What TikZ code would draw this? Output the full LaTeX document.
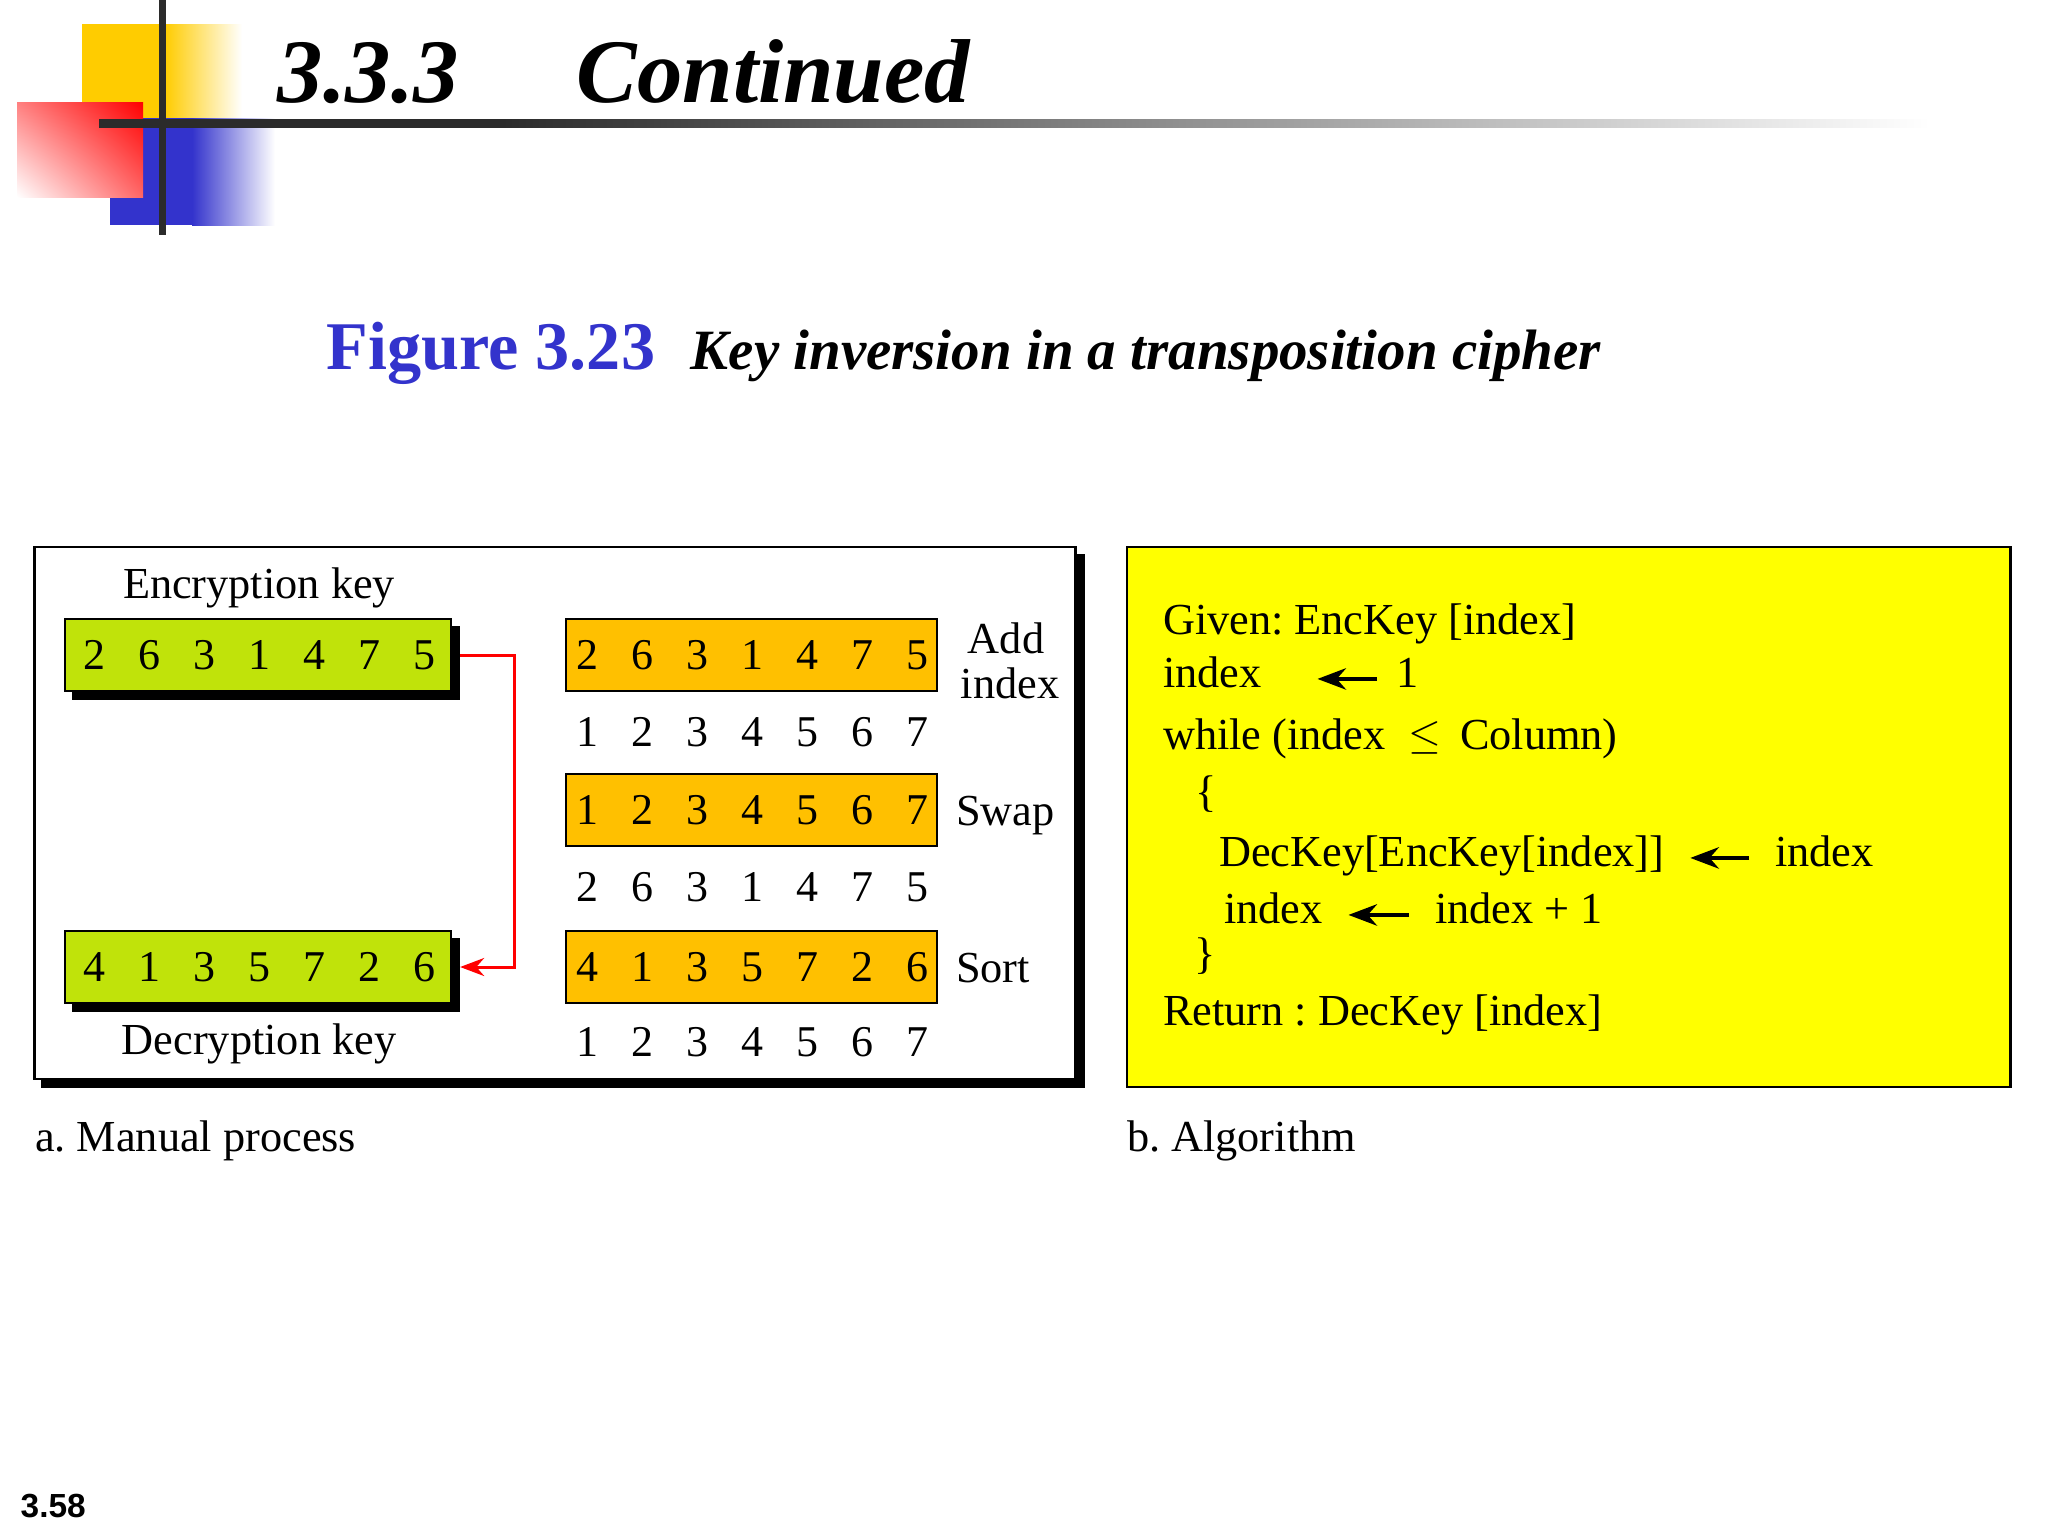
\documentclass[tikz,border=0pt]{standalone}
\usepackage{fontspec}
\setmainfont{Liberation Serif}
\setsansfont{Liberation Sans}
\usetikzlibrary{arrows.meta,shadows,shadings}
\tikzset {>=Stealth}
\definecolor{logoyellow}{HTML}{FFCC00}
\definecolor{logoblue}{HTML}{3333CC}
\definecolor{logobar}{HTML}{2B2B2B}
\definecolor{keygreen}{HTML}{C0E30A}
\definecolor{keyorange}{HTML}{FFC000}
\definecolor{panelyellow}{HTML}{FFFF00}
\definecolor{linkred}{HTML}{FF0000}
\pgfdeclarehorizontalshading{barfade}{100bp}{color(0bp)=(logobar); color(36bp)=(logobar); color(75bp)=(white); color(100bp)=(white)}
\tikzset{
  txt/.style={inner sep=0pt,outer sep=0pt,anchor=base west,font=\fontsize{12.6}{15}\selectfont},
  num/.style={inner sep=0pt,outer sep=0pt,font=\fontsize{12.5}{15}\selectfont},
  panela/.style={draw=black,line width=.025cm,fill=white,inner sep=0pt,outer sep=0pt,
    minimum width=10.4cm,minimum height=5.32cm,
    copy shadow={fill=black,draw=black,shadow xshift=.08cm,shadow yshift=-.08cm}},
  panelb/.style={draw=black,line width=.025cm,fill=panelyellow,inner sep=0pt,outer sep=0pt,
    minimum width=8.83cm,minimum height=5.4cm},
  greenkey/.style={draw=black,line width=.025cm,fill=keygreen,inner sep=0pt,outer sep=0pt,
    minimum width=3.86cm,minimum height=.72cm,
    copy shadow={fill=black,draw=black,shadow xshift=.08cm,shadow yshift=-.08cm}},
  orangekey/.style={draw=black,line width=.025cm,fill=keyorange,inner sep=0pt,outer sep=0pt,
    minimum width=3.71cm,minimum height=.72cm},
  assign/.style={->,line width=.04cm,shorten >=.26cm,shorten <=.26cm}
}

\begin{document}
\frenchspacing
\begin{tikzpicture}[x=.01cm,y=-.01cm]
\useasboundingbox (0,0) rectangle (2048,1536);

\fill[logoyellow] (82,24) rectangle (165,118);
\shade[left color=logoyellow,right color=white] (165,24) rectangle (242,118);
\fill[logoblue] (110,118) rectangle (192,225);
\shade[left color=logoblue,right color=white] (192,118) rectangle (275,225);
\shade[upper right=linkred,lower left=white,upper left=linkred!50!white,lower right=linkred!60!white] (17,102) rectangle (143,197);
\fill[logobar] (159,0) rectangle (166,235);
\shade[shading=barfade] (99,119) rectangle (1930,127);

\node[inner sep=0pt,anchor=base west,font=\fontsize{25.8}{30}\selectfont\bfseries\itshape] (secnum) at (277,102) {3.3.3};
\node[inner sep=0pt,anchor=base west,font=\fontsize{25.8}{30}\selectfont\bfseries\itshape] (sectitle) at (576,102) {Continued};
\node[inner sep=0pt,anchor=base west,font=\fontsize{19.4}{23}\selectfont\bfseries,text=logoblue] (figno) at (326,369) {Figure 3.23};
\node[inner sep=0pt,anchor=base west,font=\fontsize{16.2}{19}\selectfont\bfseries\itshape] (figcap) at (690,369) {Key inversion in a transposition cipher};

\node[panela] (mpanel) at (555,813) {};
\node[panelb] (apanel) at (1568.5,817) {};

\node[txt,anchor=base] (enclabel) at (259,598) {Encryption key};
\node[txt,anchor=base] (declabel) at (259,1054) {Decryption key};
\node[greenkey] (enckey) at (258,655) {};
\node[greenkey] (deckey) at (258,967) {};
\node[orangekey] (addbox) at (751.5,655) {};
\node[orangekey] (swapbox) at (751.5,810) {};
\node[orangekey] (sortbox) at (751.5,967) {};

\path (94,655) node[num] (e1) {2} ++(55,0) node[num] (e2) {6} ++(55,0) node[num] (e3) {3} ++(55,0) node[num] (e4) {1}
  ++(55,0) node[num] (e5) {4} ++(55,0) node[num] (e6) {7} ++(55,0) node[num] (e7) {5};
\path (94,967) node[num] (d1) {4} ++(55,0) node[num] (d2) {1} ++(55,0) node[num] (d3) {3} ++(55,0) node[num] (d4) {5}
  ++(55,0) node[num] (d5) {7} ++(55,0) node[num] (d6) {2} ++(55,0) node[num] (d7) {6};
\path (587,655) node[num] (a1) {2} ++(55,0) node[num] (a2) {6} ++(55,0) node[num] (a3) {3} ++(55,0) node[num] (a4) {1}
  ++(55,0) node[num] (a5) {4} ++(55,0) node[num] (a6) {7} ++(55,0) node[num] (a7) {5};
\path (587,732) node[num] (b1) {1} ++(55,0) node[num] (b2) {2} ++(55,0) node[num] (b3) {3} ++(55,0) node[num] (b4) {4}
  ++(55,0) node[num] (b5) {5} ++(55,0) node[num] (b6) {6} ++(55,0) node[num] (b7) {7};
\path (587,810) node[num] (s1) {1} ++(55,0) node[num] (s2) {2} ++(55,0) node[num] (s3) {3} ++(55,0) node[num] (s4) {4}
  ++(55,0) node[num] (s5) {5} ++(55,0) node[num] (s6) {6} ++(55,0) node[num] (s7) {7};
\path (587,887) node[num] (t1) {2} ++(55,0) node[num] (t2) {6} ++(55,0) node[num] (t3) {3} ++(55,0) node[num] (t4) {1}
  ++(55,0) node[num] (t5) {4} ++(55,0) node[num] (t6) {7} ++(55,0) node[num] (t7) {5};
\path (587,967) node[num] (o1) {4} ++(55,0) node[num] (o2) {1} ++(55,0) node[num] (o3) {3} ++(55,0) node[num] (o4) {5}
  ++(55,0) node[num] (o5) {7} ++(55,0) node[num] (o6) {2} ++(55,0) node[num] (o7) {6};
\path (587,1042) node[num] (u1) {1} ++(55,0) node[num] (u2) {2} ++(55,0) node[num] (u3) {3} ++(55,0) node[num] (u4) {4}
  ++(55,0) node[num] (u5) {5} ++(55,0) node[num] (u6) {6} ++(55,0) node[num] (u7) {7};

\node[txt,anchor=base] (addlabel) at (1006,653) {Add};
\node[txt,anchor=base] (idxlabel) at (1010,698) {index};
\node[txt] (swaplabel) at (956,825) {Swap};
\node[txt] (sortlabel) at (956,982) {Sort};

\draw[->,linkred,line width=.03cm] ([xshift=.09cm]enckey.east) -- ++(54,0) |- ([xshift=.09cm]deckey.east);

\node[txt] (mcaption) at (35,1151) {a. Manual process};
\node[txt] (acaption) at (1127,1151) {b. Algorithm};

\node[txt] (line1) at (1163,634) {Given: EncKey [index]};
\node[txt] (line2) at (1163,687) {index};
\node[txt] (one) at (1396,687) {1};
\node[txt] (line3) at (1163,749) {while (index};
\node[txt] (leq) at (1408,748) {$\leq$};
\node[txt] (column) at (1460,749) {Column)};
\node[txt] (lbrace) at (1195,806) {\{};
\node[txt] (line4) at (1219,866) {DecKey[EncKey[index]]};
\node[txt] (idxa) at (1775,866) {index};
\node[txt] (line5) at (1224,923) {index};
\node[txt] (idxb) at (1435,923) {index + 1};
\node[txt] (rbrace) at (1194,968) {\}};
\node[txt] (line6) at (1163,1025) {Return : DecKey [index]};

\draw[assign,shorten >=.56cm,shorten <=.19cm] (one.mid west) -- (line2.mid east);
\draw[assign] (idxa.mid west) -- (line4.mid east);
\draw[assign] (idxb.mid west) -- (line5.mid east);

\node[inner sep=0pt,anchor=base west,font=\sffamily\bfseries\fontsize{9.5}{11}\selectfont] (pageno) at (20,1517) {3.58};
\end{tikzpicture}
\end{document}
